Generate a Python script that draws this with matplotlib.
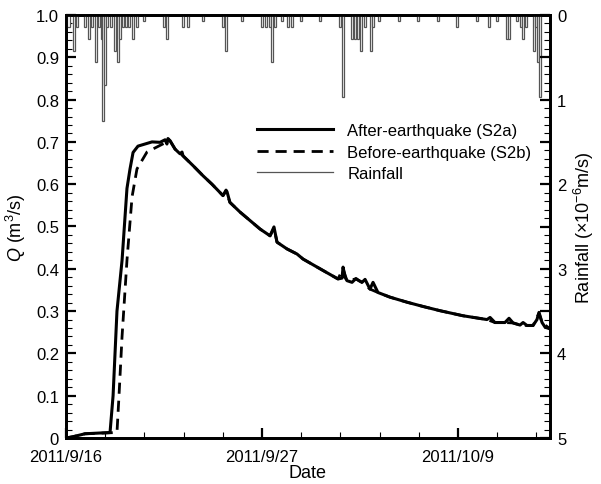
import matplotlib
matplotlib.use("Agg")
import matplotlib.pyplot as plt
from matplotlib.lines import Line2D
from matplotlib.ticker import MultipleLocator, FixedLocator, FuncFormatter

plt.rcParams['font.family'] = ['Liberation Sans', 'DejaVu Sans']
plt.rcParams['mathtext.fontset'] = 'custom'
plt.rcParams['mathtext.rm'] = 'Liberation Sans'
plt.rcParams['mathtext.it'] = 'Liberation Sans:italic'

# ---- data (x in days since 2011/9/16 00:00) ----
after_day = [0.00, 0.41, 1.12, 2.60, 2.78, 3.01, 3.31, 3.60, 3.78, 3.96, 4.25, 5.08, 5.55, 5.85,
             5.96, 6.02, 6.14, 6.44, 6.73, 6.85, 6.91, 7.50, 8.09, 8.62, 9.27, 9.45, 9.51, 9.68,
             10.28, 10.87, 11.46, 12.05, 12.28, 12.46, 13.05, 13.64, 14.00, 15.18, 16.06, 16.30,
             16.36, 16.48, 16.59, 16.89, 17.12, 17.30, 17.48, 17.66, 17.95, 18.13, 18.42, 19.13,
             20.14, 21.08, 22.08, 23.44, 24.86, 25.04, 25.33, 25.92, 26.16, 26.40, 26.81, 26.99,
             27.22, 27.58, 27.81, 27.93, 28.11, 28.29, 28.58]
after_q = [0.000, 0.003, 0.010, 0.013, 0.100, 0.300, 0.420, 0.590, 0.636, 0.675, 0.690, 0.700, 0.699, 0.705,
           0.695, 0.708, 0.703, 0.683, 0.672, 0.676, 0.667, 0.644, 0.620, 0.600, 0.573, 0.586, 0.582, 0.557,
           0.534, 0.514, 0.494, 0.478, 0.499, 0.463, 0.447, 0.435, 0.423, 0.396, 0.376, 0.378,
           0.404, 0.380, 0.372, 0.368, 0.377, 0.372, 0.368, 0.375, 0.352, 0.368, 0.344, 0.333,
           0.321, 0.311, 0.301, 0.289, 0.280, 0.285, 0.273, 0.273, 0.283, 0.272, 0.267, 0.273,
           0.266, 0.266, 0.280, 0.297, 0.273, 0.262, 0.258]

before_day = [0.00, 0.41, 1.12, 3.01, 3.13, 3.31, 3.60, 3.90, 4.19, 4.78, 5.37, 5.96, 6.14, 6.44,
              6.91, 7.50, 8.09, 8.62, 9.27, 9.45, 9.68, 10.28, 10.87, 11.46, 12.05, 12.28, 12.46,
              13.05, 13.64, 14.00, 15.18, 16.06, 16.36, 16.59, 17.12, 17.48, 17.95, 18.42, 19.13,
              20.14, 21.08, 22.08, 23.44, 24.86, 25.33, 25.92, 26.40, 26.81, 27.22, 27.58, 27.93,
              28.11, 28.58]
before_q = [0.000, 0.003, 0.010, 0.013, 0.100, 0.240, 0.420, 0.570, 0.636, 0.676, 0.688, 0.700, 0.703, 0.683,
            0.667, 0.644, 0.620, 0.600, 0.573, 0.584, 0.557, 0.534, 0.514, 0.494, 0.478, 0.496, 0.463,
            0.447, 0.435, 0.423, 0.396, 0.376, 0.400, 0.372, 0.376, 0.368, 0.352, 0.344, 0.333,
            0.321, 0.311, 0.301, 0.289, 0.280, 0.273, 0.273, 0.272, 0.267, 0.266, 0.266, 0.295,
            0.273, 0.258]

rain_day = [0.14, 0.47, 0.65, 1.12, 1.36, 1.54, 1.77, 1.95, 2.11, 2.20, 2.30, 2.42, 2.66, 2.89, 3.07,
            3.19, 3.37, 3.54, 3.72, 3.96, 4.19, 4.61, 5.79, 5.96, 6.91, 7.20, 8.09, 9.27, 9.45,
            10.39, 11.57, 11.81, 12.05, 12.16, 12.34, 12.75, 13.11, 13.35, 13.88, 15.00, 16.18,
            16.36, 16.89, 17.07, 17.24, 17.42, 17.66, 18.01, 18.13, 18.48, 19.66, 20.79, 21.97,
            23.09, 24.27, 24.98, 25.45, 26.04, 26.16, 26.63, 26.87, 26.99, 27.16, 27.64, 27.75,
            27.87, 27.99]
rain_val = [0.14, 0.42, 0.14, 0.14, 0.28, 0.14, 0.56, 0.14, 0.28, 1.25, 0.83, 0.14, 0.14, 0.42, 0.56,
            0.28, 0.14, 0.14, 0.14, 0.28, 0.14, 0.07, 0.14, 0.28, 0.14, 0.14, 0.07, 0.14, 0.42,
            0.07, 0.14, 0.14, 0.14, 0.56, 0.14, 0.07, 0.14, 0.14, 0.07, 0.07, 0.14,
            0.97, 0.28, 0.28, 0.28, 0.42, 0.14, 0.42, 0.14, 0.07, 0.07, 0.07, 0.07,
            0.14, 0.07, 0.14, 0.07, 0.28, 0.28, 0.07, 0.14, 0.28, 0.14, 0.42, 0.14,
            0.56, 0.97]

date_ticks = [0.0, 11.574, 23.148]
date_labels = ['2011/9/16', '2011/9/27', '2011/10/9']

# ---- figure ----
fig = plt.figure(figsize=(6.01, 4.85), dpi=100)
ax = fig.add_axes([66/601, 46/485, 484/601, 423/485])
ax2 = ax.twinx()

ax.plot(after_day, after_q, color='black', lw=2.2, label='After-earthquake (S2a)', zorder=3)
ax.plot(before_day, before_q, color='black', lw=2.0, ls=(0, (4, 2.5)), label='Before-earthquake (S2b)', zorder=2)

ax2.bar(rain_day, rain_val, width=0.14, bottom=0, align='center',
        facecolor='white', edgecolor='#555555', linewidth=0.9)

ax.set_xlim(0, 28.58)
ax.set_ylim(0, 1.0)
ax2.set_ylim(5, 0)

ax.xaxis.set_major_locator(FixedLocator(date_ticks))
ax.set_xticklabels(date_labels)
ax.xaxis.set_minor_locator(MultipleLocator(11.574 / 5))
ax.yaxis.set_major_locator(MultipleLocator(0.1))
ax.yaxis.set_minor_locator(MultipleLocator(0.02))
ax.yaxis.set_major_formatter(FuncFormatter(lambda v, p: '0' if abs(v) < 1e-9 else f'{v:.1f}'))

ax2.yaxis.set_major_locator(MultipleLocator(0.5))
ax2.yaxis.set_minor_locator(MultipleLocator(0.1))
ax2.yaxis.set_major_formatter(FuncFormatter(lambda v, p: f'{int(round(v))}' if abs(v - round(v)) < 1e-6 else ''))

for a in (ax, ax2):
    a.tick_params(which='major', direction='in', length=7, width=1.6, labelsize=12, pad=5)
    a.tick_params(which='minor', direction='in', length=4, width=0.8)
    for s in a.spines.values():
        s.set_linewidth(2.0)
ax.tick_params(axis='x', which='both', top=False)
ax.tick_params(axis='x', which='major', pad=8)

ax.set_xlabel('Date', fontsize=13, labelpad=0)
ax.set_ylabel(r'$Q$ (m$^3$/s)', fontsize=13, labelpad=6)
ax2.set_ylabel(r'Rainfall ($\times$10$^{-6}$m/s)', fontsize=13, labelpad=4)

handles, labels = ax.get_legend_handles_labels()
handles.append(Line2D([], [], color='#555555', lw=0.9))
labels.append('Rainfall')
leg = ax.legend(handles, labels, loc='upper left', bbox_to_anchor=(0.395, 0.745),
                frameon=False, fontsize=12, handlelength=4.55, handletextpad=0.85,
                labelspacing=0.4, borderpad=0, borderaxespad=0)
leg.set_zorder(5)

fig.savefig('out.png', dpi=100)
